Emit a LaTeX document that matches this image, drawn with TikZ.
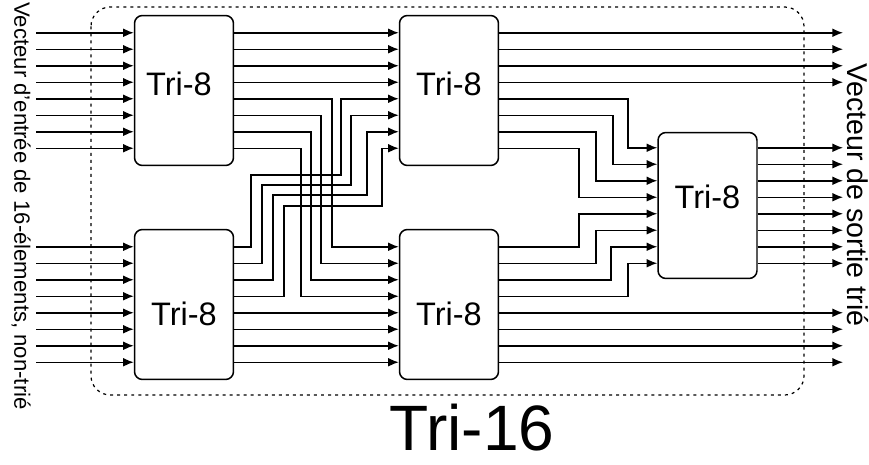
\documentclass[tikz,border=0pt]{standalone}
\usepackage{fontspec}
\setmainfont{Liberation Sans}
\usetikzlibrary{arrows.meta,positioning,calc}

\tikzset{
  trihuit/.style={draw, line width=0.85pt, rounded corners=4.5pt, minimum width=1.98cm, minimum height=3cm, inner sep=0pt},
  nomtri/.style={font=\fontsize{18.5}{21}\selectfont},
  fil/.style={line width=0.85pt},
  fleche/.style={fil, -{Latex[length=6pt,width=5pt]}},
}

\begin{document}
\begin{tikzpicture}[x=0.02cm, y=-0.02cm, >=Latex]
\useasboundingbox (0,0) rectangle (869,464);

% cadre pointille du Tri-16
\draw[line width=0.7pt, dash pattern=on 1.7pt off 2.3pt, rounded corners=11pt] (91,7) rectangle (804,395);

% blocs Tri-8
\node[trihuit] (tl) at (184,90.5) {};
\node[trihuit] (bl) at (184,304.5) {};
\node[trihuit] (tm) at (449,90.5) {};
\node[trihuit] (bm) at (449,304.5) {};
\node[trihuit, minimum height=2.92cm] (r) at (707.5,205.5) {};

\node[nomtri] (tl-txt) at ($(tl)+(-5,-7)$) {Tri-8};
\node[nomtri] (bl-txt) at ($(bl)+(0,9)$) {Tri-8};
\node[nomtri] (tm-txt) at ($(tm)+(0,-7)$) {Tri-8};
\node[nomtri] (bm-txt) at ($(bm)+(0,9)$) {Tri-8};
\node[nomtri] (r-txt) at ($(r)+(0,-9)$) {Tri-8};

% broches des blocs
\foreach \bloc in {tl,bl,tm,bm,r}
  \foreach \k in {1,...,8} {
    \coordinate (\bloc i\k) at ($(\bloc.west)+(0,{(\k-4.5)*16.5})$);
    \coordinate (\bloc o\k) at ($(\bloc.east)+(0,{(\k-4.5)*16.5})$);
  }

\coordinate (entree) at (36,0);
\coordinate (sortie) at (843,0);

% entrees, liaisons directes et sorties
\foreach \k in {1,...,8} {
  \draw[fleche] (entree |- tli\k) -- (tli\k);
  \draw[fleche] (entree |- bli\k) -- (bli\k);
  \draw[fleche] (ro\k) -- (sortie |- ro\k);
}
\foreach \k in {1,...,4} {
  \draw[fleche] (tlo\k) -- (tmi\k);
  \draw[fleche] (tmo\k) -- (sortie |- tmo\k);
}
\foreach \k in {5,...,8} {
  \draw[fleche] (blo\k) -- (bmi\k);
  \draw[fleche] (bmo\k) -- (sortie |- bmo\k);
}

% croisements du premier etage
\foreach \k/\j/\x in {5/1/332, 6/2/321, 7/3/311, 8/4/301} {
  \coordinate (c\k) at (\x,0);
  \draw[fleche] (tlo\k) -| (c\k |- bmi\j) -- (bmi\j);
}
\foreach \k/\j/\xa/\yh/\xb in {1/5/251/175/341, 2/6/262/185/351, 3/7/273/195/367, 4/8/284/206/382}
  \draw[fleche] (blo\k) -| (\xa,\yh) -- (\xb,\yh) |- (tmi\j);

% vers le dernier Tri-8
\foreach \k/\j/\x in {5/1/628, 6/2/613, 7/3/596, 8/4/579} {
  \coordinate (d\k) at (\x,0);
  \draw[fleche] (tmo\k) -| (d\k |- ri\j) -- (ri\j);
}
\foreach \k/\j/\x in {1/5/579, 2/6/596, 3/7/611, 4/8/628} {
  \coordinate (e\k) at (\x,0);
  \draw[fleche] (bmo\k) -| (e\k |- ri\j) -- (ri\j);
}

% textes
\node[rotate=-90, inner sep=0pt, font=\fontsize{12.6}{15}\selectfont] (entree-txt) at (21,206) {Vecteur d'entrée de 16-élements, non-trié};
\node[rotate=-90, inner sep=0pt, font=\fontsize{16.3}{19}\selectfont] (sortie-txt) at (857.5,195) {Vecteur de sortie trié};
\node[font=\fontsize{36.5}{42}\selectfont, anchor=base] (titre) at (472,450) {Tri-16};
\end{tikzpicture}
\end{document}
